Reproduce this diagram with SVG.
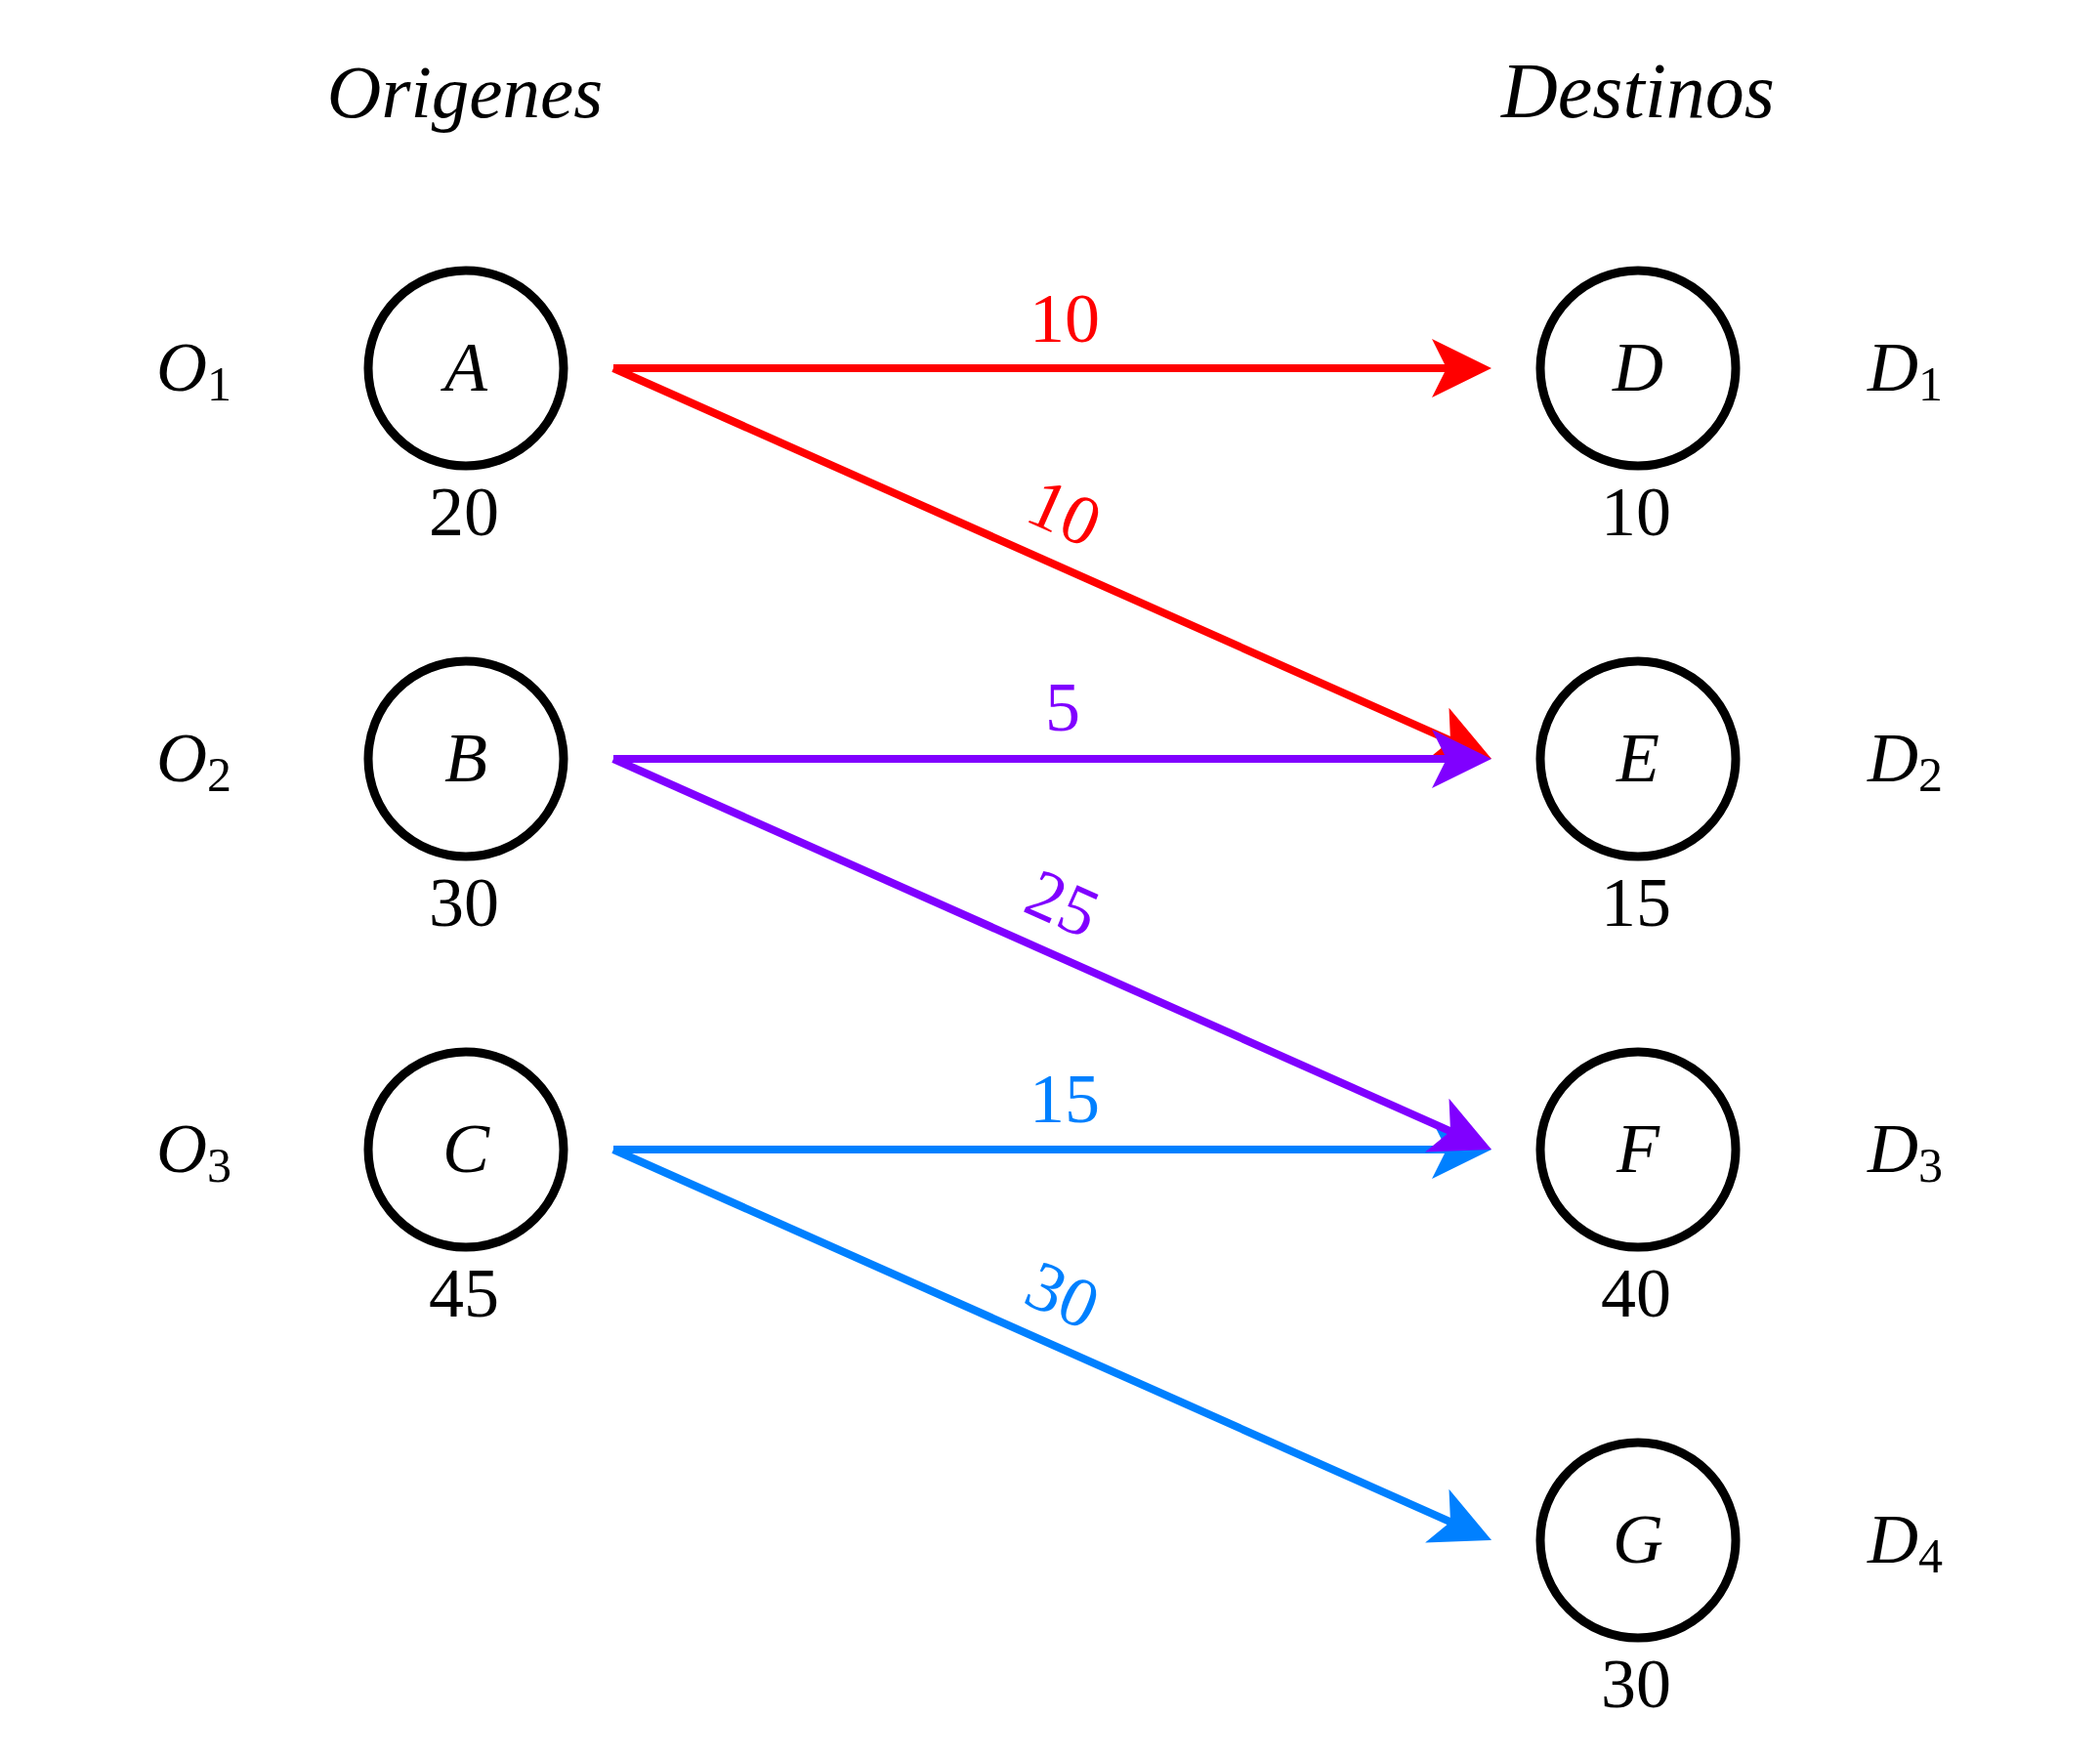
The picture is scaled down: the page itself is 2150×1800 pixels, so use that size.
<svg xmlns="http://www.w3.org/2000/svg" width="2150" height="1800" viewBox="0 0 2150 1800">
<style>
text{font-family:"Liberation Serif","DejaVu Serif",serif;font-size:72px;fill:#000}
.it{font-style:italic}
.sub{font-style:normal;font-size:50px}
.head{font-style:italic;font-size:77px}
.node circle{fill:#fff;stroke:#000;stroke-width:9}
.mid{text-anchor:middle}
.edge{stroke-width:8;fill:none}
.red{stroke:#FF0000}
.pur{stroke:#8000FF}
.blu{stroke:#0080FF}
</style>
<defs>
<marker id="hr" markerUnits="userSpaceOnUse" markerWidth="70" markerHeight="70" viewBox="-2 -35 70 70" refX="22" refY="0" orient="auto" overflow="visible"><path d="M61 0 L0 -30 L15 0 L0 30 Z" fill="#FF0000"/></marker>
<marker id="hp" markerUnits="userSpaceOnUse" markerWidth="70" markerHeight="70" viewBox="-2 -35 70 70" refX="22" refY="0" orient="auto" overflow="visible"><path d="M61 0 L0 -30 L15 0 L0 30 Z" fill="#8000FF"/></marker>
<marker id="hb" markerUnits="userSpaceOnUse" markerWidth="70" markerHeight="70" viewBox="-2 -35 70 70" refX="22" refY="0" orient="auto" overflow="visible"><path d="M61 0 L0 -30 L15 0 L0 30 Z" fill="#0080FF"/></marker>
</defs>
<rect width="2150" height="1800" fill="#fff"/>
<text class="head mid" x="476" y="120">Origenes</text>
<text class="head mid" x="1677" y="120" style="font-size:80px">Destinos</text>

<g id="connectors">
<line class="edge red" x1="628" y1="377" x2="1488" y2="377" marker-end="url(#hr)"/>
<line class="edge red" x1="628" y1="377" x2="1491.4" y2="761.1" marker-end="url(#hr)"/>
<line class="edge blu" x1="628" y1="1177" x2="1488" y2="1177" marker-end="url(#hb)"/>
<line class="edge blu" x1="628" y1="1177" x2="1491.4" y2="1561.1" marker-end="url(#hb)"/>
<line class="edge pur" x1="628" y1="777" x2="1488" y2="777" marker-end="url(#hp)"/>
<line class="edge pur" x1="628" y1="777" x2="1491.4" y2="1161.1" marker-end="url(#hp)"/>
<text class="mid" x="1090" y="350" style="fill:#FF0000">10</text>
<text class="mid" transform="translate(1090,525) rotate(24)" y="24" style="fill:#FF0000">10</text>
<text class="mid" x="1088" y="748" style="fill:#8000FF">5</text>
<text class="mid" transform="translate(1088,925) rotate(24)" y="24" style="fill:#8000FF">25</text>
<text class="mid" x="1090" y="1149" style="fill:#0080FF">15</text>
<text class="mid" transform="translate(1088,1326) rotate(24)" y="24" style="fill:#0080FF">30</text>
</g>

<g id="node-A" class="node"><circle cx="477" cy="377" r="100"/><text class="it mid" x="477" y="400">A</text><text class="mid" x="475" y="548">20</text><text class="it" x="160" y="400">O<tspan class="sub" dy="10">1</tspan></text></g>
<g id="node-B" class="node"><circle cx="477" cy="777" r="100"/><text class="it mid" x="477" y="800">B</text><text class="mid" x="475" y="948">30</text><text class="it" x="160" y="800">O<tspan class="sub" dy="10">2</tspan></text></g>
<g id="node-C" class="node"><circle cx="477" cy="1177" r="100"/><text class="it mid" x="477" y="1200">C</text><text class="mid" x="475" y="1348">45</text><text class="it" x="160" y="1200">O<tspan class="sub" dy="10">3</tspan></text></g>
<g id="node-D" class="node"><circle cx="1677" cy="377" r="100"/><text class="it mid" x="1677" y="400">D</text><text class="mid" x="1675" y="548">10</text><text class="it" x="1912" y="400">D<tspan class="sub" dy="10">1</tspan></text></g>
<g id="node-E" class="node"><circle cx="1677" cy="777" r="100"/><text class="it mid" x="1677" y="800">E</text><text class="mid" x="1675" y="948">15</text><text class="it" x="1912" y="800">D<tspan class="sub" dy="10">2</tspan></text></g>
<g id="node-F" class="node"><circle cx="1677" cy="1177" r="100"/><text class="it mid" x="1677" y="1200">F</text><text class="mid" x="1675" y="1348">40</text><text class="it" x="1912" y="1200">D<tspan class="sub" dy="10">3</tspan></text></g>
<g id="node-G" class="node"><circle cx="1677" cy="1577" r="100"/><text class="it mid" x="1677" y="1600">G</text><text class="mid" x="1675" y="1748">30</text><text class="it" x="1912" y="1600">D<tspan class="sub" dy="10">4</tspan></text></g>
</svg>
